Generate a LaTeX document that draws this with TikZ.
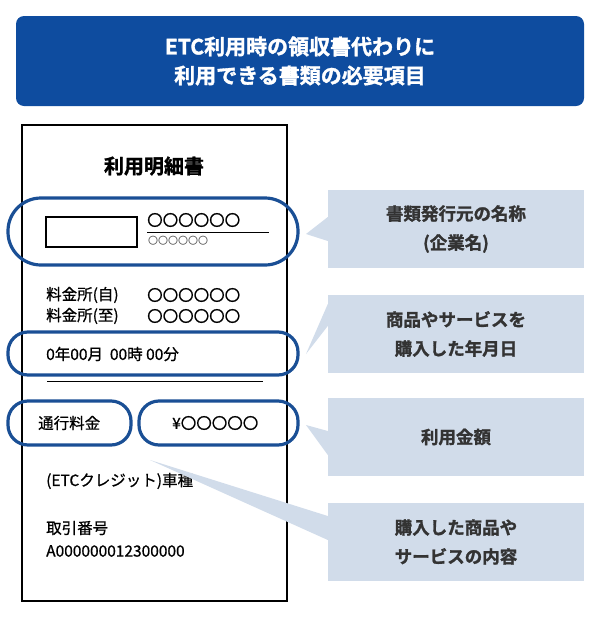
\documentclass[tikz,border=0pt]{standalone}
\usepackage{fontspec}
\setmainfont{Noto Sans CJK JP}
\newfontfamily\jpbold{Noto Sans CJK JP Bold}[FakeBold=1.5]
\newfontfamily\jpmed{Noto Sans CJK JP}[FakeBold=0.8]
\usetikzlibrary{positioning}
\definecolor{headblue}{HTML}{0E4C9F}
\definecolor{ovalblue}{HTML}{1A4F95}
\definecolor{calloutfill}{HTML}{D1DCEA}
\definecolor{calloutText}{HTML}{333333}

\begin{document}
\begin{tikzpicture}[x=1pt,y=-1pt,
oval/.style={draw=ovalblue, line width=3.2pt, rounded corners=20pt},
callout/.style={fill=calloutfill, minimum width=256pt, minimum height=78pt, align=center,
  font=\jpbold\fontsize{17.5}{29}\selectfont, text=calloutText},
item/.style={anchor=west, font=\jpmed\fontsize{15.5}{17}\selectfont, inner sep=0pt}
]
\useasboundingbox (0,0) rectangle (600,622);

%Header
\node[fill=headblue, rounded corners=8pt, minimum width=568pt, minimum height=90pt,
  text=white, align=center, font=\jpbold\fontsize{21}{29}\selectfont] (head) at (300,61)
  {ETC利用時の領収書代わりに\\利用できる書類の必要項目};

%Receipt
\node[draw=black, line width=1.8pt, minimum width=265pt, minimum height=476pt] (receipt) at (154.5,363) {};
\node[font=\jpbold\fontsize{20}{22}\selectfont] (rtitle) at (154,166) {利用明細書};

\node[draw=black, line width=1.8pt, minimum width=91pt, minimum height=30pt] (logo) at (91.5,232) {};
\node[item] (issuer) at (147,220) {〇〇〇〇〇〇};
\coordinate (rulestart) at (147,232);
\coordinate (ruleend) at (269,232);
\node[item, font=\fontsize{10}{11}\selectfont, text=black!70] (issuersub) at (148,241) {〇〇〇〇〇〇};

\node[item] (from) at (46,295) {料金所(自)};
\node[item] (fromval) at (147,295) {〇〇〇〇〇〇};
\node[item] (to) at (46,316) {料金所(至)};
\node[item] (toval) at (147,316) {〇〇〇〇〇〇};
\node[item] (date) at (46,354) {0年00月\ \ 00時 00分};
\coordinate (sepstart) at (47,381);
\coordinate (sepend) at (263,381);
\node[item] (fare) at (38,423) {通行料金};
\node[item] (price) at (172,423) {¥〇〇〇〇〇};
\node[item] (card) at (46,481) {(ETCクレジット)車種};
\node[item] (txlabel) at (46,528) {取引番号};
\node[item] (txno) at (46,551) {A000000012300000};

%Rules
\draw[line width=1pt] (rulestart) -- (ruleend);
\draw[line width=1pt] (sepstart) -- (sepend);

%Callouts
\node[callout] (c1) at (456,229) {書類発行元の名称\\(企業名)};
\node[callout] (c2) at (456,334) {商品やサービスを\\購入した年月日};
\node[callout] (c3) at (456,437) {利用金額};
\node[callout] (c4) at (456,542) {購入した商品や\\サービスの内容};

\coordinate (tip1) at (306,234);
\coordinate (tip2) at (306,354);
\coordinate (tip3) at (306,425);
\coordinate (tip4) at (150,460);
\fill[calloutfill] (tip1) -- ([yshift=-12pt]c1.west) -- ([yshift=12pt]c1.west) -- cycle;
\fill[calloutfill] (tip2) -- ([yshift=8pt]c2.west) -- ([yshift=30pt]c2.west) -- cycle;
\fill[calloutfill] (tip3) -- ([yshift=-18pt]c3.west) -- ([yshift=6pt]c3.west) -- cycle;
\fill[calloutfill] (tip4) -- ([yshift=2pt]c4.west) -- ([yshift=26pt]c4.west) -- cycle;

%Ovals
\draw[oval, rounded corners=33pt] (8,198) rectangle (298,265);
\draw[oval] (8,332) rectangle (298,375);
\draw[oval] (8,401) rectangle (131,445);
\draw[oval] (139,401) rectangle (298,445);
\end{tikzpicture}
\end{document}
